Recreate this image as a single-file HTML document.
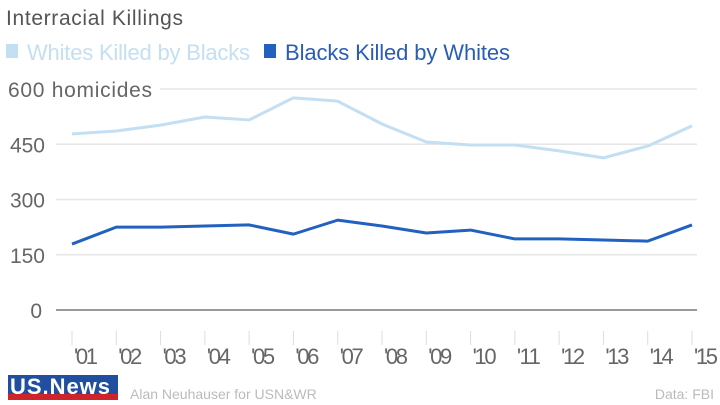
<!DOCTYPE html>
<html><head><meta charset="utf-8"><style>
body{margin:0;width:720px;height:400px;background:#fff;overflow:hidden;font-family:"Liberation Sans",sans-serif}
svg text{font-family:"Liberation Sans",sans-serif}
</style></head><body>
<svg id="c" width="720" height="400">
<text x="6" y="25" font-size="21" fill="#555" textLength="177">Interracial Killings</text>
<g>
<rect x="6" y="44" width="12" height="14" fill="#c3dff2"/>
<text x="27" y="60" font-size="22" fill="#c3dff2" textLength="223">Whites Killed by Blacks</text>
<rect x="264" y="44" width="12" height="14" fill="#2261bf"/>
<text x="285" y="60" font-size="22" fill="#2a5db5" textLength="225">Blacks Killed by Whites</text>
</g>
<g id="grid"></g><g id="xax"></g><g id="lines"></g>
<g>
<rect x="8" y="375" width="110" height="20" fill="#1f4f9e"/>
<rect x="8" y="394" width="110" height="6" fill="#d0242b"/>
<text x="10" y="394" font-size="22" font-weight="bold" fill="#fff" textLength="100">US.News</text>
<text x="130" y="399" font-size="14" fill="#bbb">Alan Neuhauser for USN&amp;WR</text>
<text x="714" y="399" font-size="14" fill="#bbb" text-anchor="end">Data: FBI</text>
</g>
</svg>
<script>
const years=["'01","'02","'03","'04","'05","'06","'07","'08","'09","'10","'11","'12","'13","'14","'15"];
const whites=[478,486,502,524,516,576,567,505,456,448,448,432,413,445,500];
const blacks=[179,225,225,228,231,206,244,228,209,217,193,193,190,187,231];
const yTicks=[0,150,300,450,600];
const yTickLabels=["0","150","300","450","600 homicides"];
const NS="http://www.w3.org/2000/svg";
const x=i=>72+i*(692-72)/(years.length-1);
const y=v=>310-v*221/600;
function mk(t,a,p){const e=document.createElementNS(NS,t);for(const k in a)e.setAttribute(k,a[k]);p.appendChild(e);return e;}
const g=document.getElementById('grid');
yTicks.forEach((v,i)=>{
 const top=i===yTicks.length-1;
 const l=mk('line',{x1:top?160:56,x2:697,y1:y(v),y2:y(v),stroke:v===0?'#999':'#e6e6e6','stroke-width':v===0?2:1.5},g);
 
 
 const a={x:top?8:(v===0?42:45),y:y(v)+8,'font-size':21,fill:'#666','text-anchor':top?'start':'end'};
 if(top)a.textLength=144;
 const t=mk('text',a,g);
 t.textContent=yTickLabels[i];
 
 
});
const xa=document.getElementById('xax');
years.forEach((yr,i)=>{
 const l=mk('line',{x1:x(i),x2:x(i),y1:331,y2:345,stroke:'#ddd','stroke-width':1},xa);
 
 
 const t=mk('text',{x:x(i)+2,y:364,'font-size':22,fill:'#666',textLength:24},xa);
 t.textContent=yr;
 
 
});
const ln=document.getElementById('lines');
[[whites,'#c3dff2','line-whites-killed-by-blacks'],[blacks,'#2261bf','line-blacks-killed-by-whites']].forEach(([d,c,n])=>{
 const p=mk('polyline',{points:d.map((v,i)=>x(i)+','+y(v)).join(' '),fill:'none',stroke:c,'stroke-width':3,'stroke-linejoin':'round'},ln);
 
 
});
</script>
</body></html>
